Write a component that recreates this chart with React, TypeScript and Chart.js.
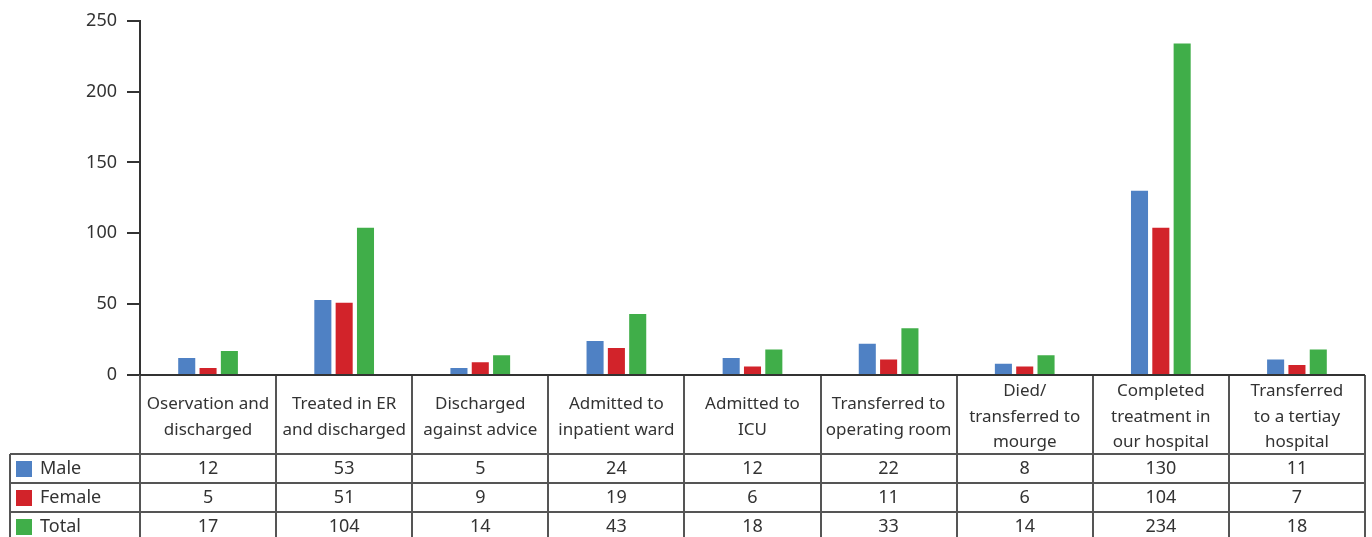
import React, { useEffect, useRef } from "react";
import { Chart, registerables } from "chart.js";

Chart.register(...registerables);

const categoryLines: string[][] = [
  ["Oservation and", "discharged"],
  ["Treated in ER", "and discharged"],
  ["Discharged", "against advice"],
  ["Admitted to", "inpatient ward"],
  ["Admitted to", "ICU"],
  ["Transferred to", "operating room"],
  ["Died/", "transferred to", "mourge"],
  ["Completed", "treatment in", "our hospital"],
  ["Transferred", "to a tertiay", "hospital"],
];
const categories = categoryLines.map((l) => l.join(" "));

const seriesNames = ["Male", "Female", "Total"];
const male = [12, 53, 5, 24, 12, 22, 8, 130, 11];
const female = [5, 51, 9, 19, 6, 11, 6, 104, 7];
const total = [17, 104, 14, 43, 18, 33, 14, 234, 18];
const seriesColors = ["#4f81c4", "#d2232a", "#40ae49"];
const yTicks = [0, 50, 100, 150, 200, 250];

const FONT = "'Noto Sans', sans-serif";

const tablePlugin = {
  id: "dataTable",
  afterDraw(chart: any) {
    const ctx: CanvasRenderingContext2D = chart.ctx;
    const { left, right, bottom } = chart.chartArea;
    const xs = chart.scales.x;
    const n = categories.length;
    const w = (right - left) / n;
    const headerH = 79;
    const rowH = 29;
    const legendLeft = 10;
    const rows = [male, female, total];
    const rowTop = bottom + headerH;
    const tableBottom = rowTop + rowH * rows.length;
    ctx.save();
    ctx.strokeStyle = "#555";
    ctx.lineWidth = 2;
    for (let i = 0; i <= n; i++) {
      const x = Math.round(left + i * w);
      ctx.beginPath();
      ctx.moveTo(x, bottom);
      ctx.lineTo(x, tableBottom);
      ctx.stroke();
    }
    ctx.beginPath();
    ctx.moveTo(legendLeft, rowTop);
    ctx.lineTo(legendLeft, tableBottom);
    ctx.stroke();
    for (let r = 0; r <= rows.length; r++) {
      const y = rowTop + r * rowH;
      ctx.beginPath();
      ctx.moveTo(legendLeft, y);
      ctx.lineTo(right, y);
      ctx.stroke();
    }
    ctx.strokeStyle = "#333";
    ctx.beginPath();
    ctx.moveTo(left, bottom);
    ctx.lineTo(right, bottom);
    ctx.stroke();

    ctx.fillStyle = "#333";
    ctx.textAlign = "center";
    ctx.textBaseline = "middle";
    ctx.font = `17px ${FONT}`;
    const lh = 25.5;
    categoryLines.forEach((lines, i) => {
      const cx = xs.getPixelForValue(i);
      const cy = bottom + headerH / 2 + 2.5;
      const start = cy - ((lines.length - 1) * lh) / 2;
      lines.forEach((t, k) => ctx.fillText(t, cx, start + k * lh));
    });
    ctx.font = `18px ${FONT}`;
    rows.forEach((vals, r) => {
      const cy = rowTop + r * rowH + rowH / 2 + 0.5;
      vals.forEach((v, i) => {
        ctx.fillText(String(v), xs.getPixelForValue(i), cy);
      });
      ctx.fillStyle = seriesColors[r];
      ctx.fillRect(legendLeft + 6, cy - 8, 16, 16);
      ctx.fillStyle = "#333";
      ctx.textAlign = "left";
      ctx.fillText(seriesNames[r], legendLeft + 30, cy);
      ctx.textAlign = "center";
    });
    ctx.restore();
  },
};

export default function App() {
  const ref = useRef<HTMLCanvasElement | null>(null);
  useEffect(() => {
    document.body.style.margin = "0";
    const canvas = ref.current!;
    const chart = new Chart(canvas, {
      type: "bar",
      data: {
        labels: categories,
        datasets: [male, female, total].map((d, i) => ({
          label: seriesNames[i],
          data: d,
          backgroundColor: seriesColors[i],
          borderWidth: 0,
          barPercentage: 0.8,
          categoryPercentage: 0.47,
        })),
      },
      options: {
        animation: false,
        responsive: false,
        maintainAspectRatio: false,
        layout: { padding: { top: 20, right: 7, bottom: 162, left: 0 } },
        plugins: { legend: { display: false }, tooltip: { enabled: false } },
        scales: {
          x: { display: false },
          y: {
            min: 0,
            max: 250,
            afterFit: (s: any) => {
              s.width = 140;
            },
            afterBuildTicks: (s: any) => {
              s.ticks = yTicks.map((v) => ({ value: v }));
            },
            ticks: {
              color: "#333",
              font: { family: FONT, size: 18 },
              padding: 10,
            },
            grid: {
              drawOnChartArea: false,
              drawTicks: true,
              tickLength: 13,
              color: "#333",
              lineWidth: 2,
            },
            border: { display: true, color: "#333", width: 2 },
          },
        },
      },
      plugins: [tablePlugin],
    });
    return () => chart.destroy();
  }, []);
  return (
    <canvas
      ref={ref}
      width={1372}
      height={537}
      style={{ display: "block", width: 1372, height: 537 }}
    />
  );
}
